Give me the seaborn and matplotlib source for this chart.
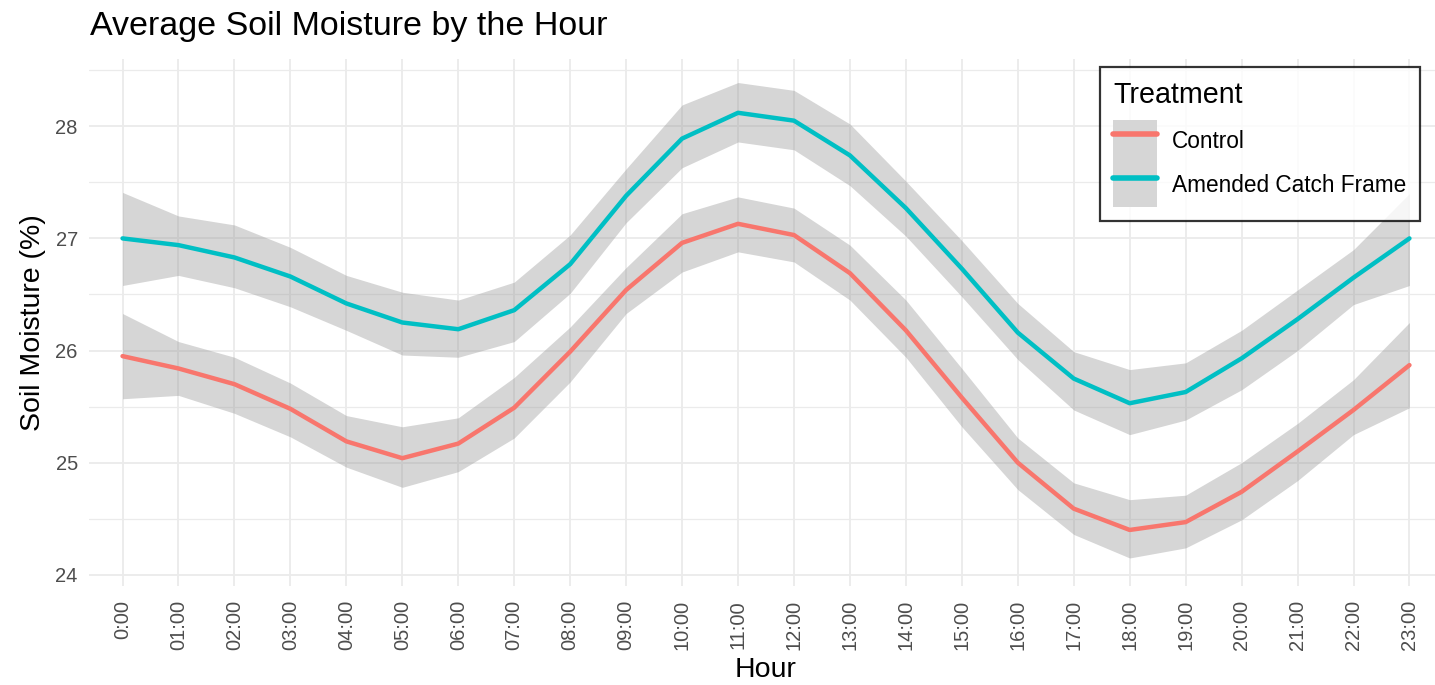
import pandas as pd
import matplotlib.pyplot as plt
import seaborn as sns
from matplotlib.patches import Patch
from matplotlib.lines import Line2D

# Dados
hours = ["0:00"] + [f"{h:02d}:00" for h in range(1, 24)]

control = [25.95, 25.84, 25.70, 25.48, 25.19, 25.04, 25.17, 25.49, 25.99, 26.54, 26.96, 27.13,
           27.03, 26.69, 26.18, 25.58, 25.00, 24.59, 24.40, 24.47, 24.74, 25.10, 25.47, 25.87]
control_lo = [25.57, 25.60, 25.44, 25.23, 24.96, 24.78, 24.92, 25.22, 25.72, 26.33, 26.70, 26.88,
              26.79, 26.45, 25.94, 25.32, 24.76, 24.36, 24.15, 24.24, 24.49, 24.84, 25.25, 25.49]
control_hi = [26.33, 26.08, 25.94, 25.71, 25.42, 25.32, 25.40, 25.76, 26.21, 26.74, 27.22, 27.37,
              27.27, 26.94, 26.45, 25.84, 25.22, 24.82, 24.67, 24.71, 25.00, 25.35, 25.74, 26.25]

amended = [27.00, 26.94, 26.83, 26.66, 26.42, 26.25, 26.19, 26.36, 26.77, 27.38, 27.89, 28.12,
           28.05, 27.74, 27.27, 26.73, 26.16, 25.75, 25.53, 25.63, 25.93, 26.28, 26.65, 27.00]
amended_lo = [26.58, 26.67, 26.56, 26.39, 26.18, 25.96, 25.94, 26.08, 26.51, 27.14, 27.63, 27.86,
              27.79, 27.47, 27.02, 26.48, 25.92, 25.47, 25.25, 25.38, 25.65, 26.00, 26.41, 26.58]
amended_hi = [27.41, 27.20, 27.12, 26.92, 26.67, 26.52, 26.45, 26.61, 27.03, 27.62, 28.19, 28.39,
              28.32, 28.02, 27.51, 26.98, 26.42, 25.99, 25.83, 25.89, 26.18, 26.54, 26.90, 27.40]

treatments = ["Control", "Amended Catch Frame"]
colors = {"Control": "#F8766D", "Amended Catch Frame": "#00BFC4"}

n = len(hours)
df = pd.DataFrame({
    "x": list(range(n)) * 2,
    "Hour": hours * 2,
    "Moisture": control + amended,
    "lo": control_lo + amended_lo,
    "hi": control_hi + amended_hi,
    "Treatment": ["Control"] * n + ["Amended Catch Frame"] * n,
})

sns.set_style("white")
plt.rcParams["font.family"] = ["Liberation Sans", "DejaVu Sans"]
plt.rcParams["text.color"] = "black"
plt.rcParams["axes.labelcolor"] = "black"

fig = plt.figure(figsize=(14.35, 6.85), dpi=100)
ax = fig.add_axes([0.062, 0.1445, 0.9436, 0.7694])

# Faixas de confiança
for t in treatments:
    d = df[df["Treatment"] == t]
    ax.fill_between(d["x"], d["lo"], d["hi"], color="#999999", alpha=0.4, lw=0, zorder=2)

sns.lineplot(data=df, x="x", y="Moisture", hue="Treatment", hue_order=treatments,
             palette=colors, lw=3.2, ax=ax, legend=False, zorder=3)

ax.set_xlim(-0.6, n - 1 + 0.6)
ax.set_ylim(23.9, 28.6)
ax.set_xticks(range(n))
ax.set_xticklabels(hours, rotation=90)
ax.set_yticks([24, 25, 26, 27, 28])
ax.set_yticks([24.5, 25.5, 26.5, 27.5, 28.5], minor=True)

ax.grid(True, which="major", color="#EBEBEB", lw=1.3, zorder=0)
ax.grid(True, which="minor", axis="y", color="#EBEBEB", lw=0.9, zorder=0)
ax.set_axisbelow(True)
for s in ax.spines.values():
    s.set_visible(False)
ax.tick_params(axis="both", which="both", length=0, labelsize=14.5, labelcolor="#4D4D4D")
ax.tick_params(axis="x", pad=10)
ax.tick_params(axis="y", pad=8)

ax.set_xlabel("Hour", fontsize=20.5, labelpad=5)
ax.set_ylabel("Soil Moisture (%)", fontsize=20.5, labelpad=7)
fig.text(0.0627, 0.962, "Average Soil Moisture by the Hour", fontsize=24.5, va="center", ha="left")

handles = [(Patch(facecolor="#D6D6D6", edgecolor="none"), Line2D([], [], color=colors[t], lw=4))
           for t in treatments]
leg = fig.legend(handles, treatments, title="Treatment", loc="upper right",
                 bbox_to_anchor=(0.9895, 0.9022), borderaxespad=0, fontsize=16.3, title_fontsize=20.6,
                 frameon=True, fancybox=False, edgecolor="black", handlelength=1.94,
                 handleheight=2.6, borderpad=0.6, labelspacing=0.0, handletextpad=0.66)
leg._legend_box.align = "left"
leg._legend_box.sep = 8
leg.get_frame().set_linewidth(1.6)

plt.savefig("out.png", dpi=100)
plt.close()
